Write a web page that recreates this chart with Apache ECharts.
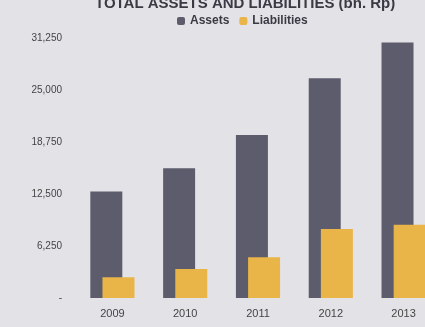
<!DOCTYPE html>
<html>
<head>
<meta charset="utf-8">
<script src="https://cdn.jsdelivr.net/npm/echarts@6/dist/echarts.min.js"></script>
<style>
  html, body { margin: 0; padding: 0; background: #e3e3e7; overflow: hidden; }
  #chart { width: 440px; height: 327px; }
</style>
</head>
<body>
<div id="chart"></div>
<script>
// Total assets and liabilities by year (bn. Rp)
const years = ['2009', '2010', '2011', '2012', '2013'];
const assets = [12800, 15600, 19600, 26400, 30700];
const liabilities = [2500, 3500, 4900, 8300, 8800];
const yTicks = [0, 6250, 12500, 18750, 25000, 31250];

const chart = echarts.init(document.getElementById('chart'));
chart.setOption({
  backgroundColor: '#e3e3e7',
  animation: false,
  title: {
    text: 'TOTAL ASSETS AND LIABILITIES (bn. Rp)',
    left: 90,
    top: -9,
    textStyle: { fontFamily: 'Liberation Sans', fontSize: 15, fontWeight: 'bold', color: '#3a3a44' }
  },
  legend: {
    top: 10,
    left: 172,
    itemWidth: 8,
    itemHeight: 8,
    itemGap: 10,
    textStyle: { fontFamily: 'Liberation Sans', fontSize: 12, color: '#3a3a44', fontWeight: 'bold' },
    data: ['Assets', 'Liabilities']
  },
  grid: { left: 76, right: 0, top: 38, bottom: 29 },
  xAxis: {
    type: 'category',
    data: years,
    axisLine: { show: false },
    axisTick: { show: false },
    axisLabel: { fontFamily: 'Liberation Sans', fontSize: 11, color: '#444', margin: 10 }
  },
  yAxis: {
    type: 'value',
    min: yTicks[0],
    max: yTicks[yTicks.length - 1],
    interval: yTicks[1] - yTicks[0],
    splitLine: { show: false },
    axisLine: { show: false },
    axisTick: { show: false },
    axisLabel: {
      fontFamily: 'Liberation Sans',
      fontSize: 10,
      color: '#444',
      margin: 14,
      formatter: v => v === 0 ? '-' : v.toLocaleString('en-US')
    }
  },
  series: [
    {
      name: 'Assets',
      type: 'bar',
      data: assets,
      barWidth: 32,
      barGap: '-62%',
      itemStyle: { color: '#5d5c6c' }
    },
    {
      name: 'Liabilities',
      type: 'bar',
      data: liabilities,
      barWidth: 32,
      itemStyle: { color: '#e9b448' }
    }
  ]
});
</script>
</body>
</html>
